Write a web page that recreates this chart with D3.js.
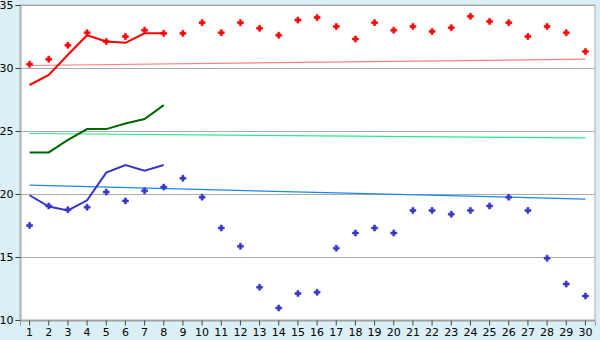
<!DOCTYPE html>
<html>
<head>
<meta charset="utf-8">
<script src="https://cdn.jsdelivr.net/npm/d3@7"></script>
<style>
  body { margin: 0; background: #daeff6; }
  svg { display: block; }
</style>
</head>
<body>
<script>
// x categories 1..30
const days = d3.range(1, 31);

const redPoints = [30.3, 30.7, 31.8, 32.8, 32.1, 32.5, 33.0, 32.75, 32.75, 33.6,
  32.8, 33.6, 33.15, 32.6, 33.8, 34.0, 33.3, 32.3, 33.6, 33.0,
  33.3, 32.9, 33.2, 34.1, 33.7, 33.6, 32.5, 33.3, 32.8, 31.3];
const redAvg = [28.65, 29.45, 31.05, 32.6, 32.1, 32.0, 32.75, 32.75];
const redTrend = [30.2, 30.7];

const greenAvg = [23.3, 23.3, 24.3, 25.15, 25.15, 25.6, 25.95, 27.05];
const greenTrend = [24.8, 24.45];

const bluePoints = [17.5, 19.05, 18.75, 18.95, 20.15, 19.45, 20.25, 20.55, 21.25, 19.75,
  17.3, 15.85, 12.6, 10.95, 12.1, 12.2, 15.7, 16.9, 17.3, 16.9,
  18.7, 18.7, 18.4, 18.7, 19.05, 19.75, 18.7, 14.9, 12.85, 11.9];
const blueAvg = [19.9, 19.0, 18.7, 19.5, 21.7, 22.3, 21.85, 22.3];
const blueTrend = [20.7, 19.6];

const yTicks = [10, 15, 20, 25, 30, 35];

const width = 600, height = 340;
const plot = { left: 20, right: 595, top: 5, bottom: 320 };

const svg = d3.select("body").append("svg")
  .attr("width", width)
  .attr("height", height)
  .style("font", "11px 'DejaVu Sans', Verdana, sans-serif");

const x = d3.scaleBand().domain(days).range([plot.left, plot.right]);
const xc = d => x(d) + x.bandwidth() / 2;
const y = d3.scaleLinear().domain([10, 35]).range([plot.bottom, plot.top]);

svg.append("rect")
  .attr("x", plot.left).attr("y", plot.top)
  .attr("width", plot.right - plot.left).attr("height", plot.bottom - plot.top)
  .attr("fill", "#fff").attr("stroke", "#aaa");

// gridlines
svg.append("g").selectAll("line").data(yTicks).join("line")
  .attr("x1", plot.left).attr("x2", plot.right)
  .attr("y1", d => Math.round(y(d)) + 0.5).attr("y2", d => Math.round(y(d)) + 0.5)
  .attr("stroke", "#aaa");

// axes
const yAxis = svg.append("g")
  .attr("transform", `translate(${plot.left + 0.5},0)`)
  .call(d3.axisLeft(y).tickValues(yTicks).tickSize(5).tickPadding(2));
const xAxis = svg.append("g")
  .attr("transform", `translate(0,${plot.bottom + 0.5})`)
  .call(d3.axisBottom(x).tickSize(5).tickPadding(3));
[yAxis, xAxis].forEach(a => {
  a.select(".domain").attr("stroke", "#999");
  a.selectAll(".tick line").attr("stroke", "#444");
  a.selectAll("text").attr("fill", "#000").style("font-size", "11px")
    .style("font-family", "'DejaVu Sans', Verdana, sans-serif");
});

const line = d3.line().x((d, i) => xc(days[i])).y(d => y(d));
const trendLine = (v) => d3.line()
  .x((d, i) => xc(days[i === 0 ? 0 : days.length - 1])).y(d => y(d))(v);

// trend lines
svg.append("path").attr("d", trendLine(redTrend)).attr("fill", "none").attr("stroke", "#ff8080").attr("stroke-width", 1.2);
svg.append("path").attr("d", trendLine(greenTrend)).attr("fill", "none").attr("stroke", "#22ee88").attr("stroke-width", 1.2);
svg.append("path").attr("d", trendLine(blueTrend)).attr("fill", "none").attr("stroke", "#1a88ee").attr("stroke-width", 1.2);

// average lines
svg.append("path").attr("d", line(redAvg)).attr("fill", "none").attr("stroke", "#ff0000").attr("stroke-width", 2);
svg.append("path").attr("d", line(greenAvg)).attr("fill", "none").attr("stroke", "#006600").attr("stroke-width", 2);
svg.append("path").attr("d", line(blueAvg)).attr("fill", "none").attr("stroke", "#3535c8").attr("stroke-width", 2);

// points
const sym = d3.symbol().type(d3.symbolCross).size(20);
svg.append("g").selectAll("path").data(redPoints).join("path")
  .attr("transform", (d, i) => `translate(${xc(days[i])},${y(d)})`)
  .attr("d", sym).attr("fill", "#ff0000").attr("stroke", "#ff0000").attr("stroke-width", 0.6);
svg.append("g").selectAll("path").data(bluePoints).join("path")
  .attr("transform", (d, i) => `translate(${xc(days[i])},${y(d)})`)
  .attr("d", sym).attr("fill", "#3535c8").attr("stroke", "#3535c8").attr("stroke-width", 0.6);
</script>
</body>
</html>
